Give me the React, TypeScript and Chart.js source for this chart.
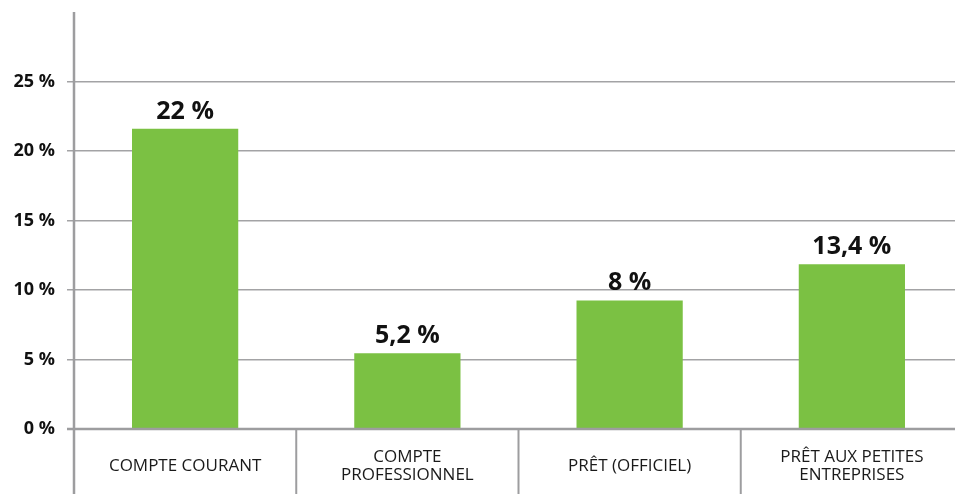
import React, { useEffect, useRef } from "react";
import { Chart, registerables } from "chart.js";

Chart.register(...registerables);

const categories: string[][] = [
  ["COMPTE COURANT"],
  ["COMPTE", "PROFESSIONNEL"],
  ["PRÊT (OFFICIEL)"],
  ["PRÊT AUX PETITES", "ENTREPRISES"],
];
const barValues: number[] = [21.6, 5.45, 9.25, 11.85];
const valueLabels: string[] = ["22 %", "5,2 %", "8 %", "13,4 %"];
const yTicks: number[] = [0, 5, 10, 15, 20, 25];
const yMax = 30;

const GRID = "#a3a3a5";
const AXIS = "#9d9d9f";
const GREEN = "#7bc143";

export default function App() {
  const ref = useRef<HTMLCanvasElement | null>(null);

  useEffect(() => {
    if (!ref.current) return;
    const decor = {
      id: "decor",
      afterDraw(chart: any) {
        const { ctx, chartArea } = chart;
        const x = chart.scales.x;
        const y = chart.scales.y;
        const H = chart.height;
        ctx.save();
        ctx.strokeStyle = AXIS;
        ctx.lineWidth = 2.5;
        ctx.beginPath();
        ctx.moveTo(chartArea.left - 7, y.getPixelForValue(0));
        ctx.lineTo(chartArea.right, y.getPixelForValue(0));
        ctx.stroke();
        ctx.beginPath();
        ctx.moveTo(chartArea.left, chartArea.top);
        ctx.lineTo(chartArea.left, H);
        ctx.stroke();
        ctx.lineWidth = 2;
        for (let i = 0; i < categories.length - 1; i++) {
          const sx = (x.getPixelForValue(i) + x.getPixelForValue(i + 1)) / 2;
          ctx.beginPath();
          ctx.moveTo(sx, y.getPixelForValue(0));
          ctx.lineTo(sx, H);
          ctx.stroke();
        }
        ctx.fillStyle = "#1a1a1a";
        ctx.font = "17px 'Open Sans', sans-serif";
        ctx.textAlign = "center";
        ctx.textBaseline = "middle";
        categories.forEach((lines, i) => {
          const cx = x.getPixelForValue(i);
          const lh = 18;
          const cy = 466;
          lines.forEach((l, j) => {
            ctx.fillText(l, cx, cy + (j - (lines.length - 1) / 2) * lh);
          });
        });
        ctx.font = "bold 25px 'Open Sans', sans-serif";
        ctx.fillStyle = "#111";
        ctx.textBaseline = "alphabetic";
        const meta = chart.getDatasetMeta(0);
        meta.data.forEach((bar: any, i: number) => {
          ctx.fillText(valueLabels[i], bar.x, bar.y - 10);
        });
        ctx.restore();
      },
    };

    const chart = new Chart(ref.current, {
      type: "bar",
      data: {
        labels: categories.map((c) => c.join(" ")),
        datasets: [
          {
            data: barValues,
            backgroundColor: GREEN,
            barPercentage: 0.478,
            categoryPercentage: 1,
          },
        ],
      },
      options: {
        animation: false,
        responsive: true,
        maintainAspectRatio: false,
        layout: { padding: { top: 0, left: 0, right: 0, bottom: 0 } },
        plugins: { legend: { display: false }, tooltip: { enabled: false } },
        scales: {
          x: {
            grid: { display: false },
            border: { display: false },
            ticks: { display: false },
            afterFit: (s: any) => {
              s.height = 65;
            },
          },
          y: {
            min: 0,
            max: yMax,
            afterBuildTicks: (s: any) => {
              s.ticks = [...yTicks, yMax].map((v) => ({ value: v }));
            },
            afterFit: (s: any) => {
              s.width = 74;
              s.paddingTop = 12;
              s.paddingBottom = 0;
            },
            border: { display: false },
            grid: {
              color: (c: any) => (c.tick && c.tick.value === yMax ? "rgba(0,0,0,0)" : GRID),
              lineWidth: 1.5,
              tickLength: 7,
            },
            ticks: {
              padding: 12,
              color: "#111",
              font: { family: "'Open Sans', sans-serif", size: 18, weight: "bold" },
              callback: (v: any) => (v === yMax ? "" : `${v} %`),
            },
          },
        },
      },
      plugins: [decor],
    });
    return () => chart.destroy();
  }, []);

  return (
    <div style={{ position: "absolute", left: 0, top: 0, width: 955, height: 494, overflow: "hidden", background: "#fff" }}>
      <div style={{ position: "relative", width: 963, height: 494 }}>
        <canvas ref={ref} />
      </div>
    </div>
  );
}
